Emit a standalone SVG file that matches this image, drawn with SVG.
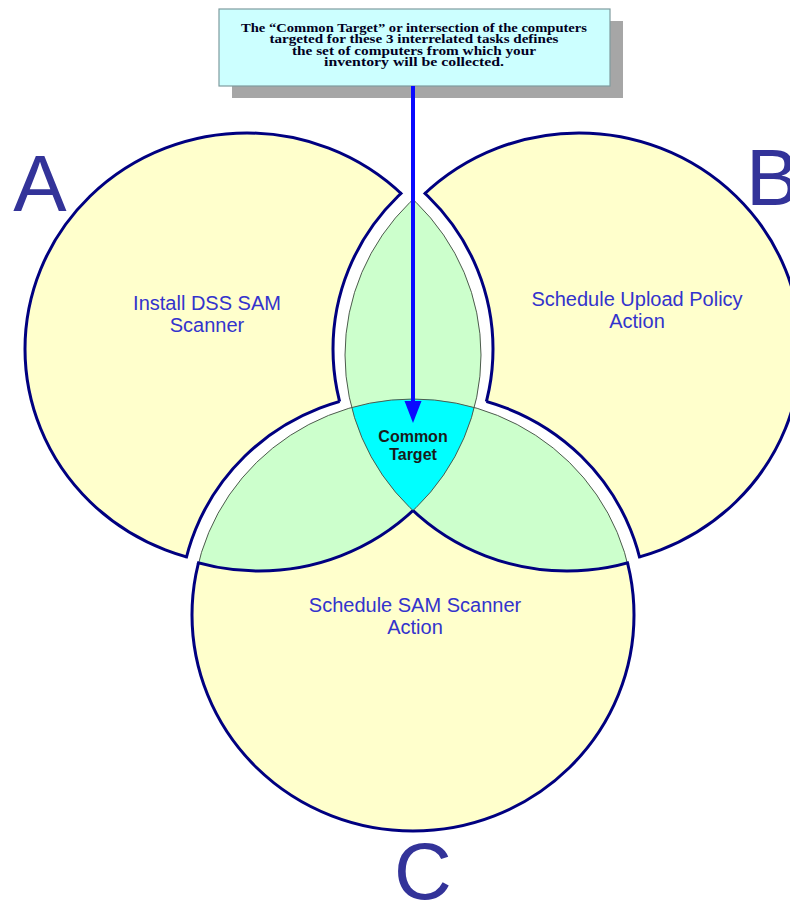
<svg xmlns="http://www.w3.org/2000/svg" width="790" height="901" viewBox="0 0 790 901">
<style>
.lbl{font-family:"Liberation Sans",Arial,sans-serif;font-size:20px;fill:#3333cc;text-anchor:middle}
.big{font-family:"Liberation Sans",Arial,sans-serif;font-size:80px;fill:#333399}
.note{font-family:"Liberation Serif","Times New Roman",serif;font-size:11.5px;font-weight:bold;fill:#000022;text-anchor:middle}
.ct{font-family:"Liberation Sans",Arial,sans-serif;font-size:16px;font-weight:bold;fill:#1a1a1a;text-anchor:middle}
.nv{fill:none;stroke:#000080;stroke-width:3}
.thin{fill:none;stroke:#4d5a4d;stroke-width:1}
</style>
<defs>
<ellipse id="eA" cx="259" cy="355" rx="222" ry="216"/>
<ellipse id="eB" cx="567" cy="355" rx="222" ry="216"/>
<ellipse id="eC" cx="413" cy="615" rx="221" ry="216"/>
<clipPath id="cB"><use href="#eB"/></clipPath>
<mask id="mNotBC" maskUnits="userSpaceOnUse" x="-100" y="-100" width="1000" height="1100"><rect x="-100" y="-100" width="1000" height="1100" fill="#fff"/><use href="#eB" fill="#000"/><use href="#eC" fill="#000"/></mask>
<mask id="mNotAC" maskUnits="userSpaceOnUse" x="-100" y="-100" width="1000" height="1100"><rect x="-100" y="-100" width="1000" height="1100" fill="#fff"/><use href="#eA" fill="#000"/><use href="#eC" fill="#000"/></mask>
<mask id="mNotAB" maskUnits="userSpaceOnUse" x="-100" y="-100" width="1000" height="1100"><rect x="-100" y="-100" width="1000" height="1100" fill="#fff"/><use href="#eA" fill="#000"/><use href="#eB" fill="#000"/></mask>
<mask id="mA_notC" maskUnits="userSpaceOnUse" x="-100" y="-100" width="1000" height="1100"><use href="#eA" fill="#fff" stroke="#fff" stroke-width="3"/><use href="#eC" fill="#000"/></mask>
<mask id="mA_notB" maskUnits="userSpaceOnUse" x="-100" y="-100" width="1000" height="1100"><use href="#eA" fill="#fff" stroke="#fff" stroke-width="3"/><use href="#eB" fill="#000"/></mask>
<mask id="mB_notC" maskUnits="userSpaceOnUse" x="-100" y="-100" width="1000" height="1100"><use href="#eB" fill="#fff" stroke="#fff" stroke-width="3"/><use href="#eC" fill="#000"/></mask>
<mask id="mB_notA" maskUnits="userSpaceOnUse" x="-100" y="-100" width="1000" height="1100"><use href="#eB" fill="#fff" stroke="#fff" stroke-width="3"/><use href="#eA" fill="#000"/></mask>
<mask id="mC_notA" maskUnits="userSpaceOnUse" x="-100" y="-100" width="1000" height="1100"><use href="#eC" fill="#fff" stroke="#fff" stroke-width="3"/><use href="#eA" fill="#000"/></mask>
<mask id="mC_notB" maskUnits="userSpaceOnUse" x="-100" y="-100" width="1000" height="1100"><use href="#eC" fill="#fff" stroke="#fff" stroke-width="3"/><use href="#eB" fill="#000"/></mask>
<mask id="mBorC" maskUnits="userSpaceOnUse" x="-100" y="-100" width="1000" height="1100"><use href="#eB" fill="#fff"/><use href="#eC" fill="#fff"/></mask>
<mask id="mAorC" maskUnits="userSpaceOnUse" x="-100" y="-100" width="1000" height="1100"><use href="#eA" fill="#fff"/><use href="#eC" fill="#fff"/></mask>
<mask id="mAorB" maskUnits="userSpaceOnUse" x="-100" y="-100" width="1000" height="1100"><use href="#eA" fill="#fff"/><use href="#eB" fill="#fff"/></mask>
<mask id="mC" maskUnits="userSpaceOnUse" x="-100" y="-100" width="1000" height="1100"><use href="#eC" fill="#fff"/></mask>
</defs>

<g id="note">
<rect x="232" y="21" width="391" height="77" fill="#a6a6a6"/>
<rect x="219" y="9" width="391" height="77" fill="#ccffff" stroke="#7f9c9f" stroke-width="1.2"/>
<text class="note" x="414" y="31.5" textLength="346" lengthAdjust="spacingAndGlyphs">The “Common Target” or intersection of the computers</text>
<text class="note" x="414" y="43" textLength="289" lengthAdjust="spacingAndGlyphs">targeted for these 3 interrelated tasks defines</text>
<text class="note" x="414" y="54.5" textLength="244" lengthAdjust="spacingAndGlyphs">the set of computers from which your</text>
<text class="note" x="414" y="66" textLength="180" lengthAdjust="spacingAndGlyphs">inventory will be collected.</text>
</g>

<g id="setA" transform="translate(-12,-6)">
<use href="#eA" fill="#ffffcc" stroke="#000080" stroke-width="3" mask="url(#mNotBC)"/>
<use href="#eB" class="nv" mask="url(#mA_notC)"/>
<use href="#eC" class="nv" mask="url(#mA_notB)"/>
</g>

<g id="setB" transform="translate(12,-6)">
<use href="#eB" fill="#ffffcc" stroke="#000080" stroke-width="3" mask="url(#mNotAC)"/>
<use href="#eA" class="nv" mask="url(#mB_notC)"/>
<use href="#eC" class="nv" mask="url(#mB_notA)"/>
</g>

<g id="overlaps">
<use href="#eA" fill="#ccffcc" mask="url(#mBorC)"/>
<use href="#eB" fill="#ccffcc" mask="url(#mC)"/>
<use href="#eA" fill="#00ffff" clip-path="url(#cB)" mask="url(#mC)"/>
<use href="#eA" class="thin" mask="url(#mBorC)"/>
<use href="#eB" class="thin" mask="url(#mAorC)"/>
<use href="#eC" class="thin" mask="url(#mAorB)"/>
</g>

<g id="setC">
<use href="#eC" fill="#ffffcc" stroke="#000080" stroke-width="3" mask="url(#mNotAB)"/>
<use href="#eA" class="nv" mask="url(#mC_notB)"/>
<use href="#eB" class="nv" mask="url(#mC_notA)"/>
</g>

<g id="labels">
<text class="lbl" x="207" y="310">Install DSS SAM</text>
<text class="lbl" x="207" y="332">Scanner</text>
<text class="lbl" x="637" y="306">Schedule Upload Policy</text>
<text class="lbl" x="637" y="328">Action</text>
<text class="lbl" x="415" y="612">Schedule SAM Scanner</text>
<text class="lbl" x="415" y="634">Action</text>
<text class="ct" x="413" y="442">Common</text>
<text class="ct" x="413" y="460">Target</text>
<text class="big" x="40" y="211" text-anchor="middle">A</text>
<text class="big" x="746" y="205">B</text>
<text class="big" x="423" y="899" text-anchor="middle">C</text>
</g>

<g id="connectors">
<line x1="413" y1="86" x2="413" y2="405" stroke="#0a0aff" stroke-width="4"/>
<polygon points="404.5,401 421.5,401 413,423" fill="#0a0aff"/>
</g>
</svg>
